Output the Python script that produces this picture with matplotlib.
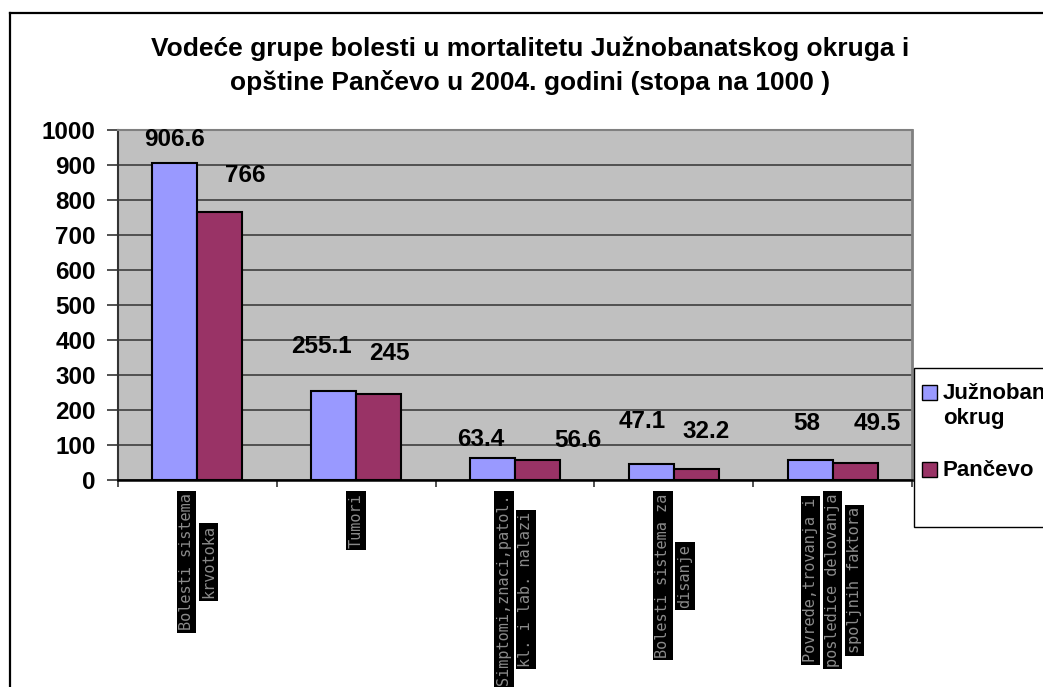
import matplotlib
matplotlib.use("Agg")
import matplotlib.pyplot as plt
from matplotlib.patches import Rectangle
from matplotlib.lines import Line2D

plt.rcParams['font.family'] = ['Liberation Sans', 'DejaVu Sans']

# data
categories = ["Bolesti sistema\nkrvotoka",
              "Tumori",
              "Simptomi,znaci,patol.\nkl. i lab. nalazi",
              "Bolesti sistema za\ndisanje",
              "Povrede,trovanja i\nposledice delovanja\nspoljnih faktora"]
juznobanatski = [906.6, 255.1, 63.4, 47.1, 58]
pancevo = [766, 245, 56.6, 32.2, 49.5]
series_names = ["Južnobanatski\nokrug", "Pančevo"]
title = ("Vodeće grupe bolesti u mortalitetu Južnobanatskog okruga i\n"
         "opštine Pančevo u 2004. godini (stopa na 1000 )")

blue = "#9999FF"
maroon = "#993366"

W, H = 1043, 687
fig = plt.figure(figsize=(W / 100, H / 100), dpi=100)
fig.patch.set_facecolor("white")

def fx(px):
    return px / W

def fy(py):
    return 1 - py / H

ax = fig.add_axes([fx(118), fy(480), fx(912) - fx(118), fy(130) - fy(480)])
ax.set_facecolor("#C0C0C0")

bw = 0.283
xs = list(range(len(categories)))
ax.bar([x - bw / 2 for x in xs], juznobanatski, bw, color=blue,
       edgecolor="black", linewidth=1.5, zorder=3)
ax.bar([x + bw / 2 for x in xs], pancevo, bw, color=maroon,
       edgecolor="black", linewidth=1.5, zorder=3)

ax.set_xlim(-0.5, len(categories) - 0.5)
ax.set_ylim(0, 1000)
ax.set_yticks(range(0, 1001, 100))
ax.set_yticklabels([str(v) for v in range(0, 1001, 100)],
                   fontsize=17.5, fontweight="bold")
ax.yaxis.grid(True, color="#333333", linewidth=1.1, zorder=1)
ax.set_axisbelow(True)
ax.tick_params(axis="y", length=8, width=1.2, pad=8, color="#333333")
ax.set_xticks([x - 0.5 for x in range(len(categories) + 1)])
ax.set_xticklabels([])
ax.tick_params(axis="x", length=5, width=1.2, color="#333333")

ax.spines["top"].set_color("#808080")
ax.spines["top"].set_linewidth(1.5)
ax.spines["right"].set_color("#808080")
ax.spines["right"].set_linewidth(2)
ax.spines["left"].set_color("#333333")
ax.spines["left"].set_linewidth(1.5)
ax.spines["bottom"].set_color("black")
ax.spines["bottom"].set_linewidth(1.8)

# data labels (offsets in pixels, as Excel laid them out)
offs_j = [(0, 23), (-12, 44), (-12, 18), (-9, 42), (-3, 36)]
offs_p = [(25, 36), (11, 41), (40, 20), (10, 37), (22, 39)]
for x, v, (dx, dy) in zip(xs, juznobanatski, offs_j):
    ax.annotate(f"{v:g}", (x - bw / 2, v), xytext=(dx, dy),
                textcoords="offset pixels", ha="center", va="center",
                fontsize=17.5, fontweight="bold", zorder=5)
for x, v, (dx, dy) in zip(xs, pancevo, offs_p):
    ax.annotate(f"{v:g}", (x + bw / 2, v), xytext=(dx, dy),
                textcoords="offset pixels", ha="center", va="center",
                fontsize=17.5, fontweight="bold", zorder=5)

# rotated category labels in black boxes
lab_fs = 11
char_px = 0.602 * lab_fs * 100 / 72
for x, cat in zip(xs, categories):
    lines = cat.split("\n")
    n = len(lines)
    block = max(len(l) for l in lines) * char_px
    for i, line in enumerate(lines):
        dx = (i - (n - 1) / 2) * 22
        ax.annotate(line, (x, 0), xytext=(dx, -13 - block / 2),
                    textcoords="offset pixels", rotation=90,
                    ha="center", va="center", fontsize=lab_fs,
                    family="DejaVu Sans Mono", color="#8a8a8a",
                    annotation_clip=False,
                    bbox=dict(boxstyle="square,pad=0.15", fc="black",
                              ec="none"))

# title
fig.text(fx(530), fy(66), title, ha="center", va="center", fontsize=19,
         fontweight="bold", linespacing=1.45)

# outer chart frame
fig.add_artist(Line2D([fx(10), fx(1043)], [fy(13), fy(13)], color="black",
                      linewidth=1.6))
fig.add_artist(Line2D([fx(10), fx(10)], [fy(13), 0], color="black",
                      linewidth=1.6))

# legend
fig.add_artist(Rectangle((fx(914), fy(527)), fx(1060) - fx(914),
                         fy(368) - fy(527), transform=fig.transFigure,
                         fc="white", ec="black", linewidth=1))
for name, col, yc in zip(series_names, [blue, maroon], [393, 470]):
    fig.add_artist(Rectangle((fx(922), fy(yc + 7)), fx(15), 15 / H,
                             transform=fig.transFigure, fc=col, ec="black",
                             linewidth=1))
fig.text(fx(943), fy(406), series_names[0], ha="left", va="center",
         fontsize=16, fontweight="bold", linespacing=1.2)
fig.text(fx(943), fy(470), series_names[1], ha="left", va="center",
         fontsize=16, fontweight="bold")

fig.savefig("out.png", dpi=100)
